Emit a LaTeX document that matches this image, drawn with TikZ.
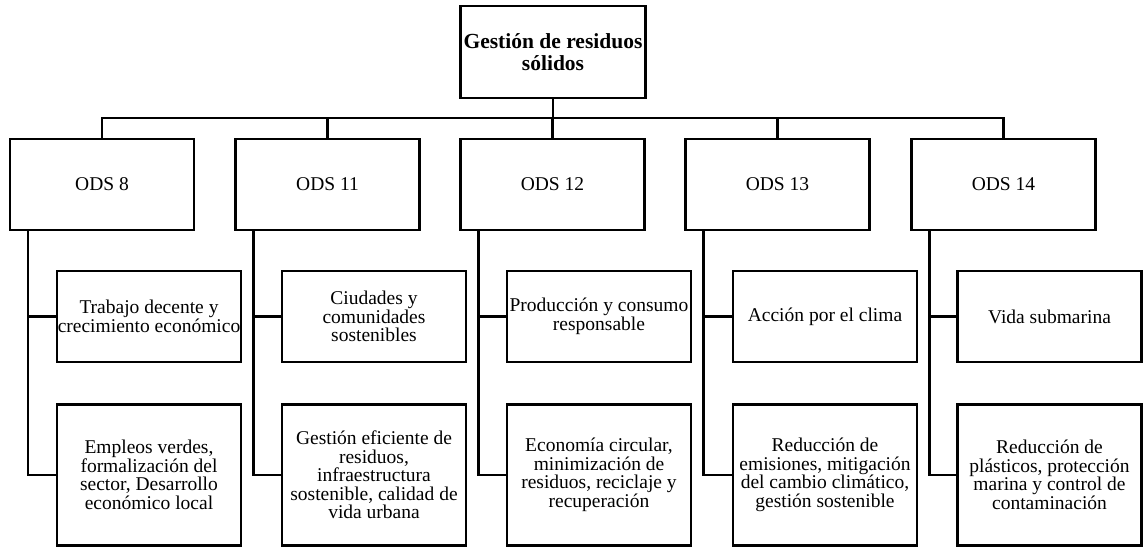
\documentclass[tikz,border=0pt]{standalone}
\usepackage{fontspec}
\setmainfont{Liberation Serif}
\begin{document}
\begin{tikzpicture}[x=1pt,y=-1pt,
  box/.style={draw,line width=2.6pt,minimum width=184pt,inner sep=0pt,align=center,
    font=\fontsize{19.5}{18.5}\selectfont},
  odsbox/.style={box,minimum height=91pt},
  rowa/.style={box,minimum height=91pt},
  rowb/.style={box,minimum height=141pt},
  link/.style={line width=2.6pt}]
\useasboundingbox (0,0) rectangle (1143,548);

\node[box,font=\bfseries\fontsize{21.5}{21.7}\selectfont,minimum width=185pt,minimum height=92pt] (root) at (553,52) {Gestión de residuos\\sólidos};

\node[odsbox] (o8)  at (102,184.5)  {ODS 8};
\node[odsbox] (o11) at (327.5,184.5) {ODS 11};
\node[odsbox] (o12) at (552.5,184.5) {ODS 12};
\node[odsbox] (o13) at (777.5,184.5) {ODS 13};
\node[odsbox] (o14) at (1003.5,184.5) {ODS 14};

\node[rowa] (c8a)  at (149,316.5)  {Trabajo decente y\\crecimiento económico};
\node[rowa] (c11a) at (374,316.5)  {Ciudades y\\comunidades\\sostenibles};
\node[rowa] (c12a) at (599,316.5)  {Producción y consumo\\responsable};
\node[rowa] (c13a) at (825,316.5)  {Acción por el clima};
\node[rowa] (c14a) at (1049.5,316.5) {Vida submarina};

\node[rowb] (c8b)  at (149,475)  {Empleos verdes,\\formalización del\\sector, Desarrollo\\económico local};
\node[rowb] (c11b) at (374,475)  {Gestión eficiente de\\residuos,\\infraestructura\\sostenible, calidad de\\vida urbana};
\node[rowb] (c12b) at (599,475)  {Economía circular,\\minimización de\\residuos, reciclaje y\\recuperación};
\node[rowb] (c13b) at (825,475)  {Reducción de\\emisiones, mitigación\\del cambio climático,\\gestión sostenible};
\node[rowb] (c14b) at (1049.5,475) {Reducción de\\plásticos, protección\\marina y control de\\contaminación};

\coordinate (bus) at (553,118);
\draw[link] (root.south) -- (bus);
\draw[link] (o8.north) -- (o8.north |- bus) -- (o14.north |- bus) -- (o14.north);
\foreach \o in {o11,o12,o13}{
  \draw[link] (\o.north) -- (\o.north |- bus);
}

\foreach \o/\a/\b in {o8/c8a/c8b,o11/c11a/c11b,o12/c12a/c12b,o13/c13a/c13b,o14/c14a/c14b}{
  \coordinate (s\o) at ([xshift=-74pt]\o.south);
  \draw[link] (s\o) |- (\b.west);
  \draw[link] (s\o |- \a.west) -- (\a.west);
}
\end{tikzpicture}
\end{document}
